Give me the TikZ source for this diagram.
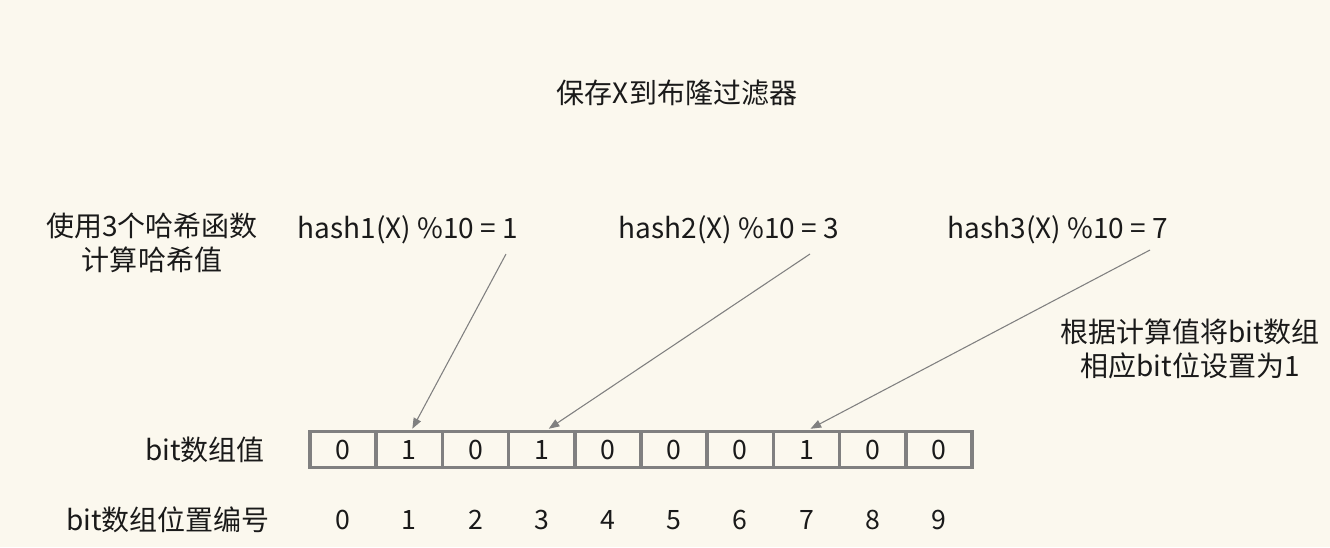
\documentclass[tikz,border=0pt]{standalone}
\usepackage{fontspec}
\setmainfont{Noto Sans CJK SC}
\usetikzlibrary{arrows.meta,calc}
\definecolor{bgc}{HTML}{FBF8EE}
\definecolor{txt}{HTML}{1A1A1A}
\definecolor{gline}{HTML}{808080}
\tikzset{
  lbl/.style={text=txt,font=\fontsize{21pt}{25.5pt}\selectfont,inner sep=0pt,align=center},
  cell/.style={draw=gline,line width=2.6pt,minimum width=49.65pt,minimum height=27pt,inner sep=0pt,text=txt,font=\fontsize{20pt}{22pt}\selectfont},
  idx/.style={lbl,font=\fontsize{20pt}{22pt}\selectfont},
  harrow/.style={draw=gline,line width=0.8pt,-{Triangle[length=8pt,width=6pt]}}
}
\begin{document}
\begin{tikzpicture}[x=0.75pt,y=-0.75pt]
\fill[bgc] (0,0) rectangle (1330,547);
\useasboundingbox (0,0) rectangle (1330,547);
\node[lbl] (title) at (677,93) {保存X到布隆过滤器};
\node[lbl] (use) at (152,243) {使用3个哈希函数\\计算哈希值};
\node[lbl] (h1) at (408,230) {hash1(X) \%10 = 1};
\node[lbl] (h2) at (729,230) {hash2(X) \%10 = 3};
\node[lbl] (h3) at (1058,230) {hash3(X) \%10 = 7};
\node[lbl] (note) at (1190,349) {根据计算值将bit数组\\相应bit位设置为1};
\node[lbl] (arrlbl) at (205,450) {bit数组值};
\node[lbl] (poslbl) at (168,520) {bit数组位置编号};
\foreach \v [count=\i from 0] in {0,1,0,1,0,0,0,1,0,0} {
  \node[cell] (c\i) at ({343.1+66.2*\i},449.5) {\v};
  \node[idx] (i\i) at ({343.1+66.2*\i},520) {\i};
}
\coordinate (s1) at (506,254);
\coordinate (s2) at (810,254);
\coordinate (s3) at (1150,250);
\draw[harrow] (s1) -- ($(c1.north)+(3,-1)$);
\draw[harrow] (s2) -- ($(c3.north)+(7,-1)$);
\draw[harrow] (s3) -- ($(c7.north)+(4,-1)$);
\end{tikzpicture}
\end{document}
